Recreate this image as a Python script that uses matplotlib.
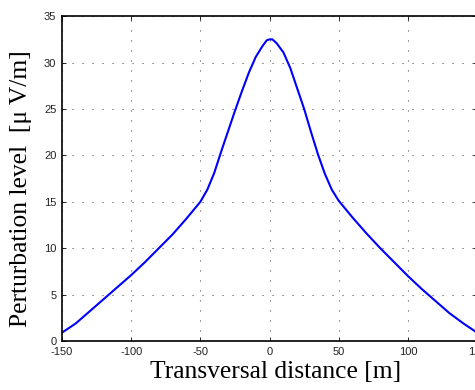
import matplotlib
matplotlib.use("Agg")
import matplotlib.pyplot as plt
import numpy as np

plt.rcParams['axes.unicode_minus'] = False

# transversal distance [m] and perturbation level [uV/m]
distance = [-150, -140, -130, -120, -110, -100, -90, -80, -70, -60, -50, -45,
            -40, -35, -30, -25, -20, -15, -10, -5, -2, 0, 2, 5, 10, 15, 20,
            25, 30, 35, 40, 45, 50, 60, 70, 80, 90, 100, 110, 120, 130, 140,
            150]
level = [0.9, 1.9, 3.2, 4.5, 5.8, 7.1, 8.5, 10.0, 11.5, 13.2, 15.0, 16.3,
         18.1, 20.4, 22.6, 24.8, 26.9, 28.9, 30.6, 31.8, 32.4, 32.5, 32.5,
         32.1, 31.1, 29.4, 27.2, 25.0, 22.5, 20.1, 18.0, 16.3, 15.1, 13.3,
         11.6, 10.0, 8.5, 7.0, 5.6, 4.3, 3.0, 1.9, 0.9]
xticks = [-150, -100, -50, 0, 50, 100, 150]
yticks = [0, 5, 10, 15, 20, 25, 30, 35]

fig = plt.figure(figsize=(4.75, 3.9), dpi=100)
ax = fig.add_axes([0.1305, 0.1256, 0.874, 0.833])

ax.plot(distance, level, color='#0000ff', linewidth=1.5)

ax.set_xlim(-150, 150)
ax.set_ylim(0, 35)
ax.set_xticks(xticks)
ax.set_yticks(yticks)
ax.tick_params(direction='in', length=3, width=0.6, labelsize=8,
               top=True, right=True, pad=4, labelcolor='#222222')
for lab in ax.get_xticklabels() + ax.get_yticklabels():
    lab.set_family('Liberation Sans')
ax.grid(True, linestyle=(0, (1, 8)), color='#555555', linewidth=0.8)
for sp in ax.spines.values():
    sp.set_linewidth(1.2)

ax.set_xlabel('Transversal distance [m]', family='Liberation Serif',
              fontsize=18.4)
ax.set_ylabel('Perturbation level  [\u03bc V/m]', family='Liberation Serif',
              fontsize=18.4)
ax.xaxis.set_label_coords(0.515, -0.062)
ax.yaxis.set_label_coords(-0.072, 0.468)

fig.savefig('out.png', dpi=100)
